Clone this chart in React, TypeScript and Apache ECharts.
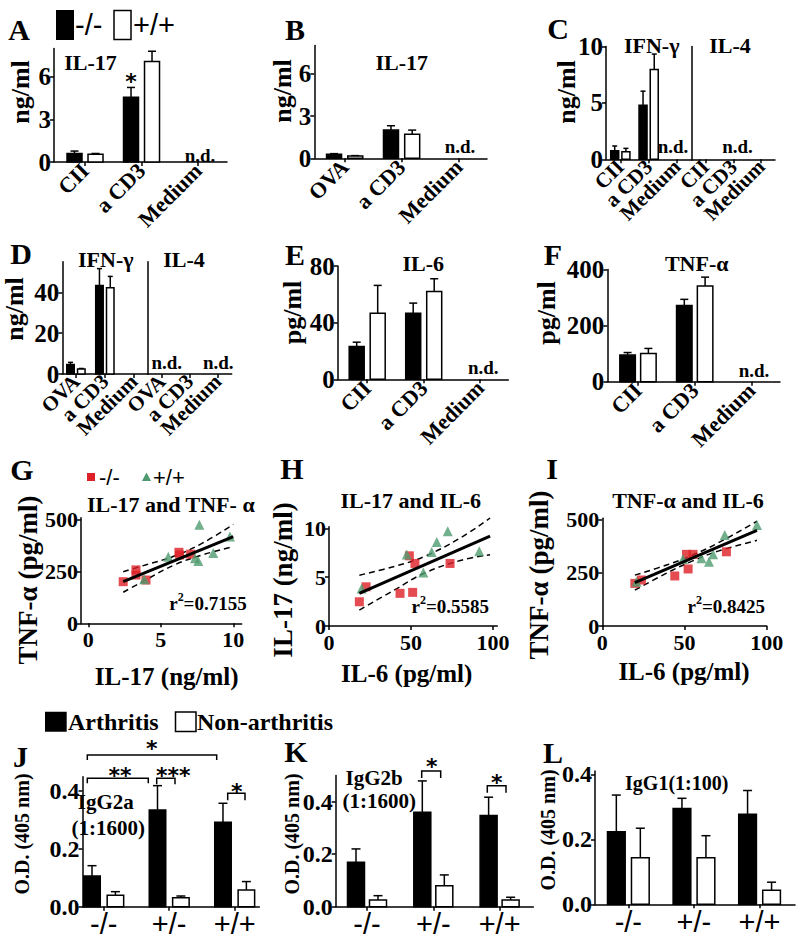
import React, { useEffect, useRef } from "react";
import * as echarts from "echarts";

// ---------------- data ----------------
const catsCII = ["CII", "a CD3", "Medium"];
const catsOVA = ["OVA", "a CD3", "Medium"];
const catsGeno = ["-/-", "+/-", "+/+"];

const ticksIL17 = [0, 3, 6];
const ticksIFNc = [0, 5, 10];
const ticksIFNd = [0, 20, 40];
const ticksIL6 = [0, 40, 80];
const ticksTNF = [0, 200, 400];
const ticksOD = [0, 0.2, 0.4];
const ticksGx = [0, 5, 10];
const ticksTNFsc = [0, 250, 500];
const ticksIL6sc = [0, 50, 100];
const ticksHy = [0, 5, 10];

// A: IL-17 (CII immunised)
const aKO = [0.6, 4.56, null];
const aKOErr = [0.17, 0.69, null];
const aWT = [0.54, 7.07, null];
const aWTErr = [0.06, 0.73, null];
// B: IL-17 (OVA)
const bKO = [0.28, 2.0, null];
const bKOErr = [0.05, 0.31, null];
const bWT = [0.16, 1.7, null];
const bWTErr = [0.03, 0.3, null];
// C: IFN-g (CII)
const cKO = [0.76, 4.8, null];
const cKOErr = [0.42, 1.24, null];
const cWT = [0.67, 7.96, null];
const cWTErr = [0.3, 1.37, null];
// D: IFN-g (OVA)
const dKO = [4.7, 43.4, null];
const dKOErr = [1.0, 8.2, null];
const dWT = [2.4, 42.3, null];
const dWTErr = [0.3, 5.5, null];
// E: IL-6
const eKO = [23.1, 46.7, null];
const eKOErr = [3.1, 7.1, null];
const eWT = [46.7, 62.0, null];
const eWTErr = [19.6, 9.0, null];
// F: TNF-a
const fKO = [94.8, 272, null];
const fKOErr = [9.2, 21.6, null];
const fWT = [100.8, 340.8, null];
const fWTErr = [17.8, 32, null];
// J: IgG2a
const jArth = [0.106, 0.335, 0.292];
const jArthErr = [0.036, 0.084, 0.066];
const jNon = [0.04, 0.031, 0.058];
const jNonErr = [0.012, 0.006, 0.029];
// K: IgG2b
const kArth = [0.169, 0.36, 0.347];
const kArthErr = [0.051, 0.119, 0.07];
const kNon = [0.0255, 0.08, 0.0255];
const kNonErr = [0.0165, 0.041, 0.0105];
// L: IgG1
const lArth = [0.223, 0.295, 0.277];
const lArthErr = [0.113, 0.031, 0.073];
const lNon = [0.143, 0.143, 0.043];
const lNonErr = [0.091, 0.068, 0.025];

// G: IL-17 (x) vs TNF-a (y)
const gKO = [[2.41, 201], [3.29, 258], [3.29, 233], [3.98, 209], [6.25, 343], [6.3, 330], [7.06, 334]];
const gWT = [[3.86, 213], [5.52, 322], [7.66, 476], [7.36, 314], [7.59, 301], [8.62, 339], [9.77, 419]];
const gFit = [[2.41, 201], [10.0, 419]];
const gUpper = [[2.41, 249], [4, 283], [6, 326], [8, 392], [10.0, 478]];
const gLower = [[2.41, 150], [4, 211], [6, 284], [8, 333], [10.0, 370]];
// H: IL-6 (x) vs IL-17 (y)
const hKO = [[18.5, 2.48], [22.6, 4.01], [43.3, 3.34], [51.0, 3.44], [49.0, 7.18], [52.4, 6.4], [73.8, 6.4]];
const hWT = [[19.9, 3.84], [47.4, 7.31], [57.5, 5.48], [62.6, 7.58], [65.7, 8.6], [72.4, 9.69], [91.6, 7.65]];
const hFit = [[18.5, 3.34], [98.2, 9.2]];
const hUpper = [[18.5, 5.2], [40, 6.1], [58, 7.1], [80, 9.0], [98.2, 11.05]];
const hLower = [[18.5, 1.63], [40, 3.7], [58, 5.4], [80, 6.7], [98.2, 7.3]];
// I: IL-6 (x) vs TNF-a (y)
const iKO = [[19.8, 201], [23.8, 217], [44.1, 236], [52.2, 269], [51.2, 338], [55.2, 338], [75.5, 350]];
const iWT = [[20.8, 209], [49.1, 316], [60.3, 319], [64.9, 303], [67.4, 338], [74.5, 429], [94.1, 476]];
const iFit = [[19.8, 205], [94.1, 451]];
const iUpper = [[19.8, 240], [40, 290], [55, 335], [70, 390], [94.1, 494]];
const iLower = [[19.8, 169], [40, 253], [55, 307], [70, 352], [94.1, 404]];

// ---------------- styles ----------------
const FT = "'Liberation Serif', 'Times New Roman', serif";
const FS = "'Liberation Sans', Arial, sans-serif";
const FSTAR = "'DejaVu Sans', sans-serif";
const RED = "#de1f26";
const GREEN = "#4f9b6f";
const LS = { color: "#000", width: 1.5 };

type BarPanel = {
  grid: { left: number; top: number; width: number; height: number };
  x: [number, number];
  yMax: number;
  yTicks?: number[];
  cats: string[];
  series: [(number | null)[], (number | null)[]][];
  w: number;
  off: number;
  cap: number;
  tickFs: number;
  catFont: string;
  catFs: number;
  catWeight: string;
  rotate: number;
  catMargin: number;
  split?: boolean;
  yFmt?: (v: number) => string;
};

const odFmt = (v: number) => v.toFixed(1);

const barPanels: BarPanel[] = [
  { grid: { left: 54, top: 48.4, width: 173, height: 113.6 }, x: [-0.549, 2.513], yMax: 8, yTicks: ticksIL17, cats: catsCII, series: [[aKO, aKOErr], [aWT, aWTErr]], w: 15, off: 10.5, cap: 8, tickFs: 25, catFont: FT, catFs: 22, catWeight: "bold", rotate: 45, catMargin: 5 },
  { grid: { left: 314.3, top: 45.5, width: 172.7, height: 112.8 }, x: [-0.533, 2.5], yMax: 8, yTicks: ticksIL17, cats: catsOVA, series: [[bKO, bKOErr], [bWT, bWTErr]], w: 15, off: 10.6, cap: 8, tickFs: 25, catFont: FT, catFs: 22, catWeight: "bold", rotate: 45, catMargin: 5 },
  { grid: { left: 606, top: 46.5, width: 85.7, height: 112.8 }, x: [-0.505, 2.52], yMax: 10, yTicks: ticksIFNc, cats: catsCII, series: [[cKO, cKOErr], [cWT, cWTErr]], w: 8, off: 5.6, cap: 5, tickFs: 25, catFont: FT, catFs: 21, catWeight: "bold", rotate: 45, catMargin: 4, split: true },
  { grid: { left: 691.7, top: 46.5, width: 83.3, height: 112.8 }, x: [-0.5, 2.5], yMax: 10, cats: catsCII, series: [], w: 8, off: 5.6, cap: 5, tickFs: 25, catFont: FT, catFs: 21, catWeight: "bold", rotate: 45, catMargin: 4, split: true },
  { grid: { left: 62.3, top: 261.7, width: 85.4, height: 112.3 }, x: [-0.47, 2.48], yMax: 55, yTicks: ticksIFNd, cats: catsOVA, series: [[dKO, dKOErr], [dWT, dWTErr]], w: 7.5, off: 5.4, cap: 5, tickFs: 25, catFont: FT, catFs: 21, catWeight: "bold", rotate: 45, catMargin: 4, split: true },
  { grid: { left: 147.7, top: 261.7, width: 84, height: 112.3 }, x: [-0.5, 2.5], yMax: 55, cats: catsOVA, series: [], w: 7.5, off: 5.4, cap: 5, tickFs: 25, catFont: FT, catFs: 21, catWeight: "bold", rotate: 45, catMargin: 4, split: true },
  { grid: { left: 337.7, top: 266, width: 170.6, height: 113.3 }, x: [-0.522, 2.497], yMax: 80, yTicks: ticksIL6, cats: catsCII, series: [[eKO, eKOErr], [eWT, eWTErr]], w: 15, off: 10.5, cap: 8, tickFs: 25, catFont: FT, catFs: 22, catWeight: "bold", rotate: 45, catMargin: 5 },
  { grid: { left: 607.3, top: 269.5, width: 172.7, height: 112.2 }, x: [-0.541, 2.504], yMax: 400, yTicks: ticksTNF, cats: catsCII, series: [[fKO, fKOErr], [fWT, fWTErr]], w: 15.5, off: 10.4, cap: 8, tickFs: 25, catFont: FT, catFs: 22, catWeight: "bold", rotate: 45, catMargin: 5 },
  { grid: { left: 82.5, top: 776.7, width: 176.8, height: 130 }, x: [-0.324, 2.376], yMax: 0.45, yTicks: ticksOD, cats: catsGeno, series: [[jArth, jArthErr], [jNon, jNonErr]], w: 16.5, off: 11.7, cap: 9, tickFs: 24, catFont: FS, catFs: 29, catWeight: "normal", rotate: 0, catMargin: 3, yFmt: odFmt },
  { grid: { left: 335.7, top: 775.4, width: 197.6, height: 131.3 }, x: [-0.472, 2.508], yMax: 0.5, yTicks: ticksOD, cats: catsGeno, series: [[kArth, kArthErr], [kNon, kNonErr]], w: 17, off: 11, cap: 9, tickFs: 24, catFont: FS, catFs: 29, catWeight: "normal", rotate: 0, catMargin: 3, yFmt: odFmt },
  { grid: { left: 595, top: 771, width: 200, height: 133.3 }, x: [-0.508, 2.54], yMax: 0.41, yTicks: ticksOD, cats: catsGeno, series: [[lArth, lArthErr], [lNon, lNonErr]], w: 17.7, off: 12, cap: 9, tickFs: 24, catFont: FS, catFs: 29, catWeight: "normal", rotate: 0, catMargin: 3, yFmt: odFmt },
];

type ScPanel = {
  grid: { left: number; top: number; width: number; height: number };
  x: [number, number];
  y: [number, number];
  xTicks: number[];
  yTicks: number[];
  ko: number[][];
  wt: number[][];
  fit: number[][];
  upper: number[][];
  lower: number[][];
};

const scPanels: ScPanel[] = [
  { grid: { left: 81, top: 517.7, width: 160.7, height: 105.6 }, x: [-0.5, 10.58], y: [0, 510], xTicks: ticksGx, yTicks: ticksTNFsc, ko: gKO, wt: gWT, fit: gFit, upper: gUpper, lower: gLower },
  { grid: { left: 329, top: 526.7, width: 168.3, height: 99.3 }, x: [0, 102.6], y: [0, 10.16], xTicks: ticksIL6sc, yTicks: ticksHy, ko: hKO, wt: hWT, fit: hFit, upper: hUpper, lower: hLower },
  { grid: { left: 602.3, top: 518.3, width: 164.4, height: 107.7 }, x: [0, 100], y: [0, 508], xTicks: ticksIL6sc, yTicks: ticksTNFsc, ko: iKO, wt: iWT, fit: iFit, upper: iUpper, lower: iLower },
];

function barSeries(gi: number, vals: (number | null)[], errs: (number | null)[], fill: string, off: number, w: number, cap: number) {
  const data = vals
    .map((v, i) => (v == null ? null : [i, v, errs[i] ?? 0]))
    .filter((d) => d !== null);
  return {
    type: "custom",
    xAxisIndex: gi,
    yAxisIndex: gi,
    data,
    clip: false,
    z: 3,
    silent: true,
    encode: { x: 0, y: 1 },
    renderItem: (_p: any, api: any) => {
      const i = api.value(0);
      const v = api.value(1);
      const e = api.value(2);
      const base = api.coord([i, 0]);
      const top = api.coord([i, v]);
      const et = api.coord([i, v + e]);
      const cx = base[0] + off;
      const ls = { stroke: "#000", lineWidth: 1.5 };
      return {
        type: "group",
        children: [
          { type: "line", shape: { x1: cx, y1: top[1], x2: cx, y2: et[1] }, style: ls },
          { type: "line", shape: { x1: cx - cap / 2, y1: et[1], x2: cx + cap / 2, y2: et[1] }, style: ls },
          { type: "rect", shape: { x: cx - w / 2, y: top[1], width: w, height: base[1] - top[1] }, style: { fill, stroke: "#000", lineWidth: 1.5 } },
        ],
      };
    },
  };
}

function txt(x: number, y: number, text: string, size: number, family: string, o: any = {}) {
  return {
    type: "text",
    x,
    y,
    rotation: o.rot || 0,
    z: 20,
    silent: true,
    style: {
      text,
      fontSize: size,
      fontFamily: family,
      fontWeight: o.weight ?? "bold",
      fill: "#000",
      align: o.align ?? "center",
      verticalAlign: o.va ?? "middle",
      rich: o.rich,
    },
  };
}

// asterisk glyph sits high in the em box: shift the box down so the glyph lands on (x, y)
function star(x: number, y: number, s: string) {
  return txt(x, y + 4.5, s, 22, FSTAR);
}

function bracket(x1: number, x2: number, y: number, d1: number, d2: number) {
  return {
    type: "polyline",
    z: 20,
    silent: true,
    shape: { points: [[x1, y + d1], [x1, y], [x2, y], [x2, y + d2]] },
    style: { stroke: "#000", lineWidth: 1.5, fill: null },
  };
}

function r2(xRight: number, y: number, val: string) {
  return txt(xRight, y, `{a|r}{b|2}{a|=${val}}`, 19, FT, {
    align: "right",
    rich: {
      a: { fontSize: 19, fontFamily: FT, fontWeight: "bold", lineHeight: 22, verticalAlign: "bottom" },
      b: { fontSize: 12, fontFamily: FT, fontWeight: "bold", lineHeight: 22, verticalAlign: "top" },
    },
  });
}

function buildOption() {
  const grids: any[] = [];
  const xAxes: any[] = [];
  const extraX: any[] = [];
  const yAxes: any[] = [];
  const series: any[] = [];

  barPanels.forEach((p, gi) => {
    grids.push({ ...p.grid, outerBoundsMode: "none", containLabel: false });
    const labelBase = {
      show: true,
      showMinLabel: true,
      showMaxLabel: true,
      hideOverlap: false,
      formatter: (v: number) => p.cats[Math.round(v)] ?? "",
      rotate: p.rotate,
      margin: p.catMargin,
      color: "#000",
      fontFamily: p.catFont,
      fontWeight: p.catWeight,
      fontSize: p.catFs,
    };
    xAxes.push({
      type: "value",
      gridIndex: gi,
      position: "bottom",
      min: p.x[0],
      max: p.x[1],
      axisLine: { show: true, onZero: false, lineStyle: LS },
      axisTick: { show: true, customValues: [0, 1, 2], length: 4, lineStyle: LS },
      axisLabel: { ...labelBase, customValues: p.split ? [0, 2] : [0, 1, 2] },
      splitLine: { show: false },
    });
    if (p.split) {
      // narrow panel: the middle category label sits on a twin axis so that it is not culled
      extraX.push({
        type: "value",
        gridIndex: gi,
        position: "bottom",
        offset: 0,
        min: p.x[0],
        max: p.x[1],
        axisLine: { show: false, onZero: false },
        axisTick: { show: false },
        axisLabel: { ...labelBase, customValues: [1] },
        splitLine: { show: false },
      });
    }
    const hasY = !!p.yTicks;
    yAxes.push({
      type: "value",
      gridIndex: gi,
      min: 0,
      max: p.yMax,
      axisLine: { show: true, onZero: false, lineStyle: LS },
      axisTick: { show: hasY, customValues: p.yTicks, length: 4, lineStyle: LS },
      axisLabel: {
        show: hasY,
        customValues: p.yTicks,
        showMinLabel: true,
        showMaxLabel: true,
        margin: 3,
        formatter: p.yFmt ? p.yFmt : (v: number) => String(v),
        color: "#000",
        fontFamily: FT,
        fontWeight: "bold",
        fontSize: p.tickFs,
      },
      splitLine: { show: false },
    });
    p.series.forEach(([vals, errs], si) => {
      series.push(barSeries(gi, vals, errs, si === 0 ? "#000" : "#fff", si === 0 ? -p.off : p.off, p.w, p.cap));
    });
  });

  scPanels.forEach((p, k) => {
    const gi = barPanels.length + k;
    grids.push({ ...p.grid, outerBoundsMode: "none", containLabel: false });
    xAxes.push({
      type: "value",
      gridIndex: gi,
      position: "bottom",
      min: p.x[0],
      max: p.x[1],
      axisLine: { show: true, onZero: false, lineStyle: LS },
      axisTick: { show: true, customValues: p.xTicks, length: 4, lineStyle: LS },
      axisLabel: { show: true, customValues: p.xTicks, showMinLabel: true, showMaxLabel: true, margin: 5, color: "#000", fontFamily: FT, fontWeight: "bold", fontSize: 22 },
      splitLine: { show: false },
    });
    yAxes.push({
      type: "value",
      gridIndex: gi,
      min: p.y[0],
      max: p.y[1],
      axisLine: { show: true, onZero: false, lineStyle: LS },
      axisTick: { show: true, customValues: p.yTicks, length: 4, lineStyle: LS },
      axisLabel: { show: true, customValues: p.yTicks, showMinLabel: true, showMaxLabel: true, margin: 3, color: "#000", fontFamily: FT, fontWeight: "bold", fontSize: 22 },
      splitLine: { show: false },
    });
    const dashed = { color: "#000", width: 1.5, type: [6, 4] };
    series.push(
      { type: "line", xAxisIndex: gi, yAxisIndex: gi, data: p.upper, smooth: 0.4, showSymbol: false, clip: false, silent: true, lineStyle: dashed, z: 2 },
      { type: "line", xAxisIndex: gi, yAxisIndex: gi, data: p.lower, smooth: 0.4, showSymbol: false, clip: false, silent: true, lineStyle: dashed, z: 2 },
      { type: "line", xAxisIndex: gi, yAxisIndex: gi, data: p.fit, showSymbol: false, clip: false, silent: true, lineStyle: { color: "#000", width: 3 }, z: 4 },
      { type: "scatter", xAxisIndex: gi, yAxisIndex: gi, data: p.ko, symbol: "rect", symbolSize: 9, itemStyle: { color: RED }, silent: true, z: 3 },
      { type: "scatter", xAxisIndex: gi, yAxisIndex: gi, data: p.wt, symbol: "triangle", symbolSize: 10, itemStyle: { color: GREEN }, silent: true, z: 3 }
    );
  });

  const rot = Math.PI / 2;
  const graphics: any[] = [
    // panel letters
    txt(19, 29, "A", 30, FT), txt(295, 29, "B", 30, FT), txt(558, 28, "C", 30, FT),
    txt(21, 253, "D", 30, FT), txt(295, 254, "E", 30, FT), txt(553, 254, "F", 30, FT),
    txt(22, 469, "G", 30, FT), txt(292, 468, "H", 30, FT), txt(552, 468, "I", 30, FT),
    txt(20.5, 756, "J", 30, FT), txt(296, 751, "K", 30, FT), txt(553, 752, "L", 30, FT),
    // legend A
    { type: "rect", z: 20, silent: true, shape: { x: 56, y: 10, width: 18, height: 30 }, style: { fill: "#000" } },
    txt(75, 25, "-/-", 29, FS, { align: "left", weight: "normal" }),
    { type: "rect", z: 20, silent: true, shape: { x: 114, y: 10.5, width: 17, height: 29 }, style: { fill: "#fff", stroke: "#000", lineWidth: 1.5 } },
    txt(133, 25, "+/+", 29, FS, { align: "left", weight: "normal" }),
    // titles A-F
    txt(90.5, 62, "IL-17", 22, FT), txt(401.7, 62, "IL-17", 22, FT),
    txt(651.7, 45, "IFN-γ", 22, FT), txt(730, 45, "IL-4", 22, FT),
    txt(105.8, 259, "IFN-γ", 22, FT), txt(184, 259, "IL-4", 22, FT),
    txt(423.3, 263, "IL-6", 22, FT), txt(696.7, 263, "TNF-α", 22, FT),
    // n.d.
    txt(200, 155, "n.d.", 19, FT), txt(460, 146.7, "n.d.", 19, FT),
    txt(673, 146.7, "n.d.", 19, FT), txt(737.5, 146.7, "n.d.", 19, FT),
    txt(166.7, 362.3, "n.d.", 19, FT), txt(218.3, 362.3, "n.d.", 19, FT),
    txt(483.3, 367.7, "n.d.", 19, FT), txt(754, 370, "n.d.", 19, FT),
    star(131, 77, "*"),
    // y names A-F
    txt(20, 92, "ng/ml", 26, FT, { rot }), txt(282, 91, "ng/ml", 26, FT, { rot }), txt(566, 92, "ng/ml", 26, FT, { rot }),
    txt(14, 309, "ng/ml", 26, FT, { rot }), txt(292.5, 312.5, "pg/ml", 26, FT, { rot }), txt(546.7, 313, "pg/ml", 26, FT, { rot }),
    // G legend
    { type: "rect", z: 20, silent: true, shape: { x: 87, y: 473, width: 8, height: 8 }, style: { fill: RED } },
    txt(99, 477, "-/-", 22, FS, { align: "left", weight: "normal" }),
    { type: "polygon", z: 20, silent: true, shape: { points: [[146.5, 472.5], [151, 481], [142, 481]] }, style: { fill: GREEN } },
    txt(153, 477, "+/+", 22, FS, { align: "left", weight: "normal" }),
    // titles G-I
    txt(170.8, 504.3, "IL-17 and TNF- α", 22, FT), txt(410.8, 500, "IL-17 and IL-6", 22, FT), txt(688, 500, "TNF-α and IL-6", 22, FT),
    // names G-I
    txt(27.5, 580, "TNF-α (pg/ml)", 27, FT, { rot }), txt(283, 580, "IL-17 (ng/ml)", 27, FT, { rot }), txt(539, 575, "TNF-α (pg/ml)", 27, FT, { rot }),
    txt(166.7, 676.7, "IL-17 (ng/ml)", 25, FT), txt(406.7, 673, "IL-6 (pg/ml)", 25, FT), txt(684, 671.7, "IL-6 (pg/ml)", 25, FT),
    r2(246.7, 601.7, "0.7155"), r2(489, 605, "0.5585"), r2(765, 605, "0.8425"),
    // J legend
    { type: "rect", z: 20, silent: true, shape: { x: 45, y: 711.7, width: 21.7, height: 20 }, style: { fill: "#000" } },
    txt(68, 721.5, "Arthritis", 24, FT, { align: "left" }),
    { type: "rect", z: 20, silent: true, shape: { x: 175.5, y: 712, width: 20.5, height: 19.5 }, style: { fill: "#fff", stroke: "#000", lineWidth: 1.5 } },
    txt(197, 721.5, "Non-arthritis", 24, FT, { align: "left" }),
    // J-L labels
    txt(105.8, 801.7, "IgG2a", 21, FT), txt(108.3, 828.3, "(1:1600)", 21, FT),
    txt(374.2, 778.3, "IgG2b", 21, FT), txt(379.2, 801, "(1:1600)", 21, FT),
    txt(676.7, 783.3, "IgG1(1:100)", 20, FT),
    txt(21.7, 834, "O.D. (405 nm)", 20, FT, { rot }), txt(291.7, 834, "O.D. (405 nm)", 20, FT, { rot }), txt(548.3, 830, "O.D. (405 nm)", 20, FT, { rot }),
    // significance J
    bracket(87.3, 216.7, 755, 5, 5), star(151.7, 744.3, "*"),
    bracket(87.3, 148.3, 778.3, 5, 5), star(120, 771, "**"),
    bracket(156.7, 175, 778.3, 6, 6), star(173.3, 771, "***"),
    bracket(227.7, 245, 793.3, 7, 7), star(236.7, 786.7, "*"),
    // significance K
    bracket(421.7, 440.7, 771, 7, 7), star(431.7, 761.7, "*"),
    bracket(487.3, 506, 785.7, 7, 7), star(496.7, 777.7, "*"),
  ];

  return {
    animation: false,
    backgroundColor: "#fff",
    textStyle: { fontFamily: FT },
    grid: grids,
    xAxis: [...xAxes, ...extraX],
    yAxis: yAxes,
    series,
    graphic: { elements: graphics },
  };
}

export default function App() {
  const ref = useRef<HTMLDivElement>(null);
  useEffect(() => {
    if (!ref.current) return;
    const chart = echarts.init(ref.current, undefined, { renderer: "svg" });
    chart.setOption(buildOption() as any);
    return () => chart.dispose();
  }, []);
  return (
    <div
      ref={ref}
      style={{ position: "fixed", left: 0, top: 0, width: 800, height: 946, background: "#fff" }}
    />
  );
}
